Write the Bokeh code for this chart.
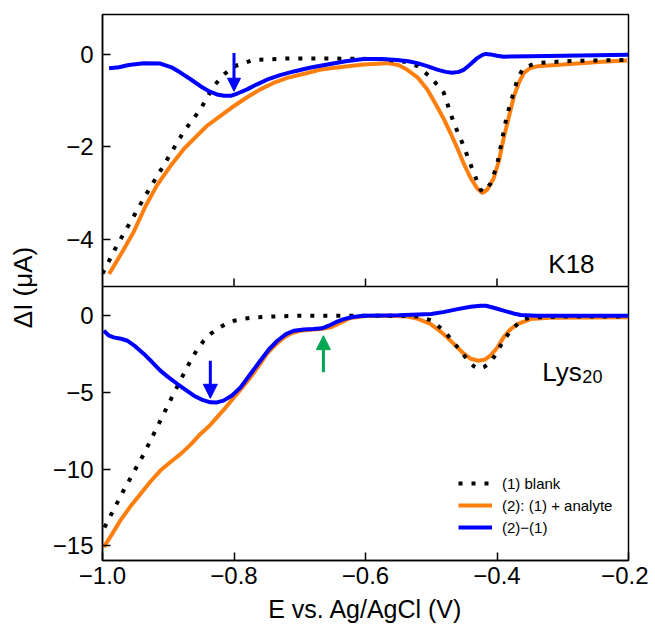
from bokeh.plotting import figure
from bokeh.models import Range1d, Span, Arrow, NormalHead, Label, Legend, LegendItem, FixedTicker
from bokeh.embed import file_html
from bokeh.resources import INLINE

# ---------------- data ----------------
# Upper panel: K18
k18_blank_E = [-1.0, -0.978, -0.957, -0.937, -0.907, -0.877, -0.851, -0.831, -0.815, -0.80, -0.77,
               -0.72, -0.65, -0.58, -0.54, -0.52, -0.50, -0.481, -0.466, -0.451, -0.436, -0.425,
               -0.42, -0.41, -0.40, -0.385, -0.369, -0.36, -0.34, -0.30, -0.25, -0.20]
k18_blank_I = [-4.75, -4.14, -3.62, -3.11, -2.40, -1.68, -1.18, -0.68, -0.42, -0.25, -0.11,
               -0.08, -0.08, -0.09, -0.15, -0.25, -0.50, -0.82, -1.47, -1.97, -2.54, -2.93,
               -2.98, -2.80, -2.40, -1.32, -0.54, -0.28, -0.18, -0.14, -0.12, -0.11]

k18_sample_E = [-0.99, -0.97, -0.952, -0.935, -0.917, -0.897, -0.876, -0.858, -0.841, -0.82, -0.80,
                -0.78, -0.76, -0.74, -0.719, -0.69, -0.668, -0.653, -0.603, -0.567, -0.55, -0.537,
                -0.52, -0.506, -0.494, -0.481, -0.47, -0.46, -0.45, -0.44, -0.43, -0.4225, -0.415,
                -0.405, -0.397, -0.39, -0.382, -0.374, -0.366, -0.359, -0.35, -0.339, -0.30, -0.273,
                -0.24, -0.202]
k18_sample_I = [-4.76, -4.28, -3.83, -3.30, -2.83, -2.42, -2.04, -1.78, -1.54, -1.32, -1.11,
                -0.92, -0.75, -0.61, -0.50, -0.40, -0.32, -0.29, -0.21, -0.18, -0.22, -0.32,
                -0.50, -0.75, -1.05, -1.39, -1.72, -2.04, -2.38, -2.68, -2.90, -3.00, -2.93,
                -2.68, -2.30, -1.82, -1.35, -0.89, -0.58, -0.39, -0.29, -0.25, -0.21, -0.18,
                -0.15, -0.12]

k18_diff_E = [-0.99, -0.975, -0.96, -0.937, -0.912, -0.895, -0.881, -0.866, -0.851, -0.838, -0.826,
              -0.815, -0.805, -0.795, -0.78, -0.765, -0.75, -0.73, -0.709, -0.685, -0.658, -0.63,
              -0.603, -0.575, -0.552, -0.535, -0.521, -0.505, -0.491, -0.478, -0.468, -0.458,
              -0.45, -0.44, -0.43, -0.422, -0.417, -0.41, -0.40, -0.39, -0.35, -0.298, -0.25, -0.20]
k18_diff_I = [-0.29, -0.27, -0.22, -0.18, -0.19, -0.27, -0.39, -0.53, -0.68, -0.79, -0.86,
              -0.89, -0.89, -0.84, -0.75, -0.64, -0.54, -0.44, -0.36, -0.28, -0.21, -0.14,
              -0.09, -0.09, -0.11, -0.14, -0.18, -0.25, -0.32, -0.37, -0.39, -0.37,
              -0.32, -0.20, -0.07, 0.00, 0.02, 0.01, -0.02, -0.04, -0.03, -0.02, -0.01, 0.00]

# Lower panel: Lys20
lys_blank_E = [-0.997, -0.968, -0.937, -0.907, -0.892, -0.879, -0.866, -0.856, -0.846, -0.836, -0.826,
               -0.813, -0.80, -0.785, -0.77, -0.74, -0.70, -0.65, -0.55, -0.52, -0.50, -0.48, -0.46,
               -0.445, -0.435, -0.428, -0.42, -0.41, -0.40, -0.39, -0.379, -0.364, -0.35, -0.30, -0.20]
lys_blank_I = [-13.8, -11.39, -9.0, -6.4, -5.1, -4.0, -2.93, -2.2, -1.63, -1.2, -0.87,
               -0.55, -0.33, -0.2, -0.11, -0.05, 0.0, 0.0, 0.0, -0.05, -0.3, -1.0, -2.06,
               -2.86, -3.3, -3.47, -3.35, -3.04, -2.39, -1.6, -0.98, -0.33, -0.12, -0.05, -0.05]

lys_sample_E = [-0.998, -0.985, -0.973, -0.958, -0.942, -0.927, -0.912, -0.897, -0.881, -0.866, -0.851,
                -0.838, -0.826, -0.813, -0.80, -0.788, -0.775, -0.762, -0.75, -0.737, -0.724, -0.712,
                -0.699, -0.684, -0.668, -0.653, -0.638, -0.623, -0.60, -0.56, -0.536, -0.52, -0.501,
                -0.488, -0.476, -0.463, -0.45, -0.44, -0.428, -0.418, -0.41, -0.40, -0.39, -0.38,
                -0.369, -0.349, -0.32, -0.20]
lys_sample_I = [-15.08, -14.2, -13.35, -12.45, -11.6, -10.8, -10.09, -9.55, -9.0, -8.4, -7.7,
                -7.2, -6.62, -6.0, -5.32, -4.7, -4.02, -3.25, -2.49, -1.9, -1.41, -1.13,
                -0.98, -0.92, -0.87, -0.76, -0.45, -0.15, -0.02, 0.0, -0.05, -0.2, -0.54,
                -0.95, -1.41, -1.95, -2.49, -2.80, -2.93, -2.85, -2.6, -2.1, -1.41, -0.9,
                -0.54, -0.22, -0.13, -0.1]

lys_diff_E = [-0.998, -0.99, -0.983, -0.972, -0.962, -0.95, -0.937, -0.925, -0.912, -0.90, -0.886,
              -0.873, -0.861, -0.848, -0.836, -0.826, -0.816, -0.803, -0.79, -0.775, -0.76, -0.747,
              -0.734, -0.721, -0.709, -0.694, -0.679, -0.666, -0.656, -0.645, -0.633, -0.62, -0.603,
              -0.55, -0.50, -0.48, -0.46, -0.44, -0.425, -0.417, -0.405, -0.39, -0.375, -0.364,
              -0.34, -0.20]
lys_diff_I = [-0.98, -1.3, -1.41, -1.5, -1.63, -2.0, -2.49, -3.0, -3.58, -4.0, -4.45,
              -4.85, -5.21, -5.48, -5.64, -5.65, -5.53, -5.2, -4.67, -3.8, -2.93, -2.2,
              -1.63, -1.2, -0.98, -0.9, -0.87, -0.82, -0.65, -0.42, -0.22, -0.08, 0.0,
              0.03, 0.11, 0.25, 0.43, 0.58, 0.65, 0.65, 0.52, 0.33, 0.15, 0.05,
              0.0, 0.0]

x_ticks = [-1.0, -0.8, -0.6, -0.4, -0.2]
x_tick_labels = ["\u22121.0", "\u22120.8", "\u22120.6", "\u22120.4", "\u22120.2"]
top_y_ticks = [0, -2, -4]
top_y_tick_labels = ["0", "\u22122", "\u22124"]
bot_y_ticks = [0, -5, -10, -15]
bot_y_tick_labels = ["0", "\u22125", "\u221210", "\u221215"]
inner_x_ticks = [-0.8, -0.6, -0.4]

legend_labels = ["(1) blank", "(2): (1) + analyte", "(2)\u2212(1)"]
x_title = "E vs. Ag/AgCl (V)"
y_title = "\u0394I (\u03bcA)"

# arrows: (E, I_tail, I_tip)
k18_arrow = (-0.80, 0.04, -0.79)
lys_arrow = (-0.836, -2.93, -5.38)
lys_green_arrow = (-0.664, -3.69, -1.30)

# ---------------- layout parameters ----------------
Y_MIN, Y_MAX = -15.95, 19.63        # lower-panel units over the whole frame
TOP_OFFSET, TOP_SCALE = 17.0, 3.0   # upper-panel value v sits at TOP_OFFSET + TOP_SCALE*v
BOUNDARY = 1.9                      # panel separator in lower-panel units
FONT = "Liberation Sans"
ORANGE = "#ff7f0e"
BLUE = "#0000ff"
GREEN = "#00a650"

p = figure(frame_width=526, frame_height=546, output_backend="svg", toolbar_location=None,
           x_range=Range1d(-1.0, -0.2), y_range=Range1d(Y_MIN, Y_MAX),
           min_border_left=102, min_border_right=20, min_border_top=14, min_border_bottom=72,
           background_fill_color="white", border_fill_color="white")
p.extra_y_ranges = {"top": Range1d((Y_MIN - TOP_OFFSET) / TOP_SCALE, (Y_MAX - TOP_OFFSET) / TOP_SCALE)}
p.grid.visible = False
p.outline_line_color = "black"
p.outline_line_width = 1.5

# axes
p.xaxis.ticker = FixedTicker(ticks=x_ticks)
p.xaxis.major_label_overrides = dict(zip(x_ticks, x_tick_labels))
y_pos = [TOP_OFFSET + TOP_SCALE * t for t in top_y_ticks] + [float(t) for t in bot_y_ticks]
p.yaxis.ticker = FixedTicker(ticks=y_pos)
p.yaxis.major_label_overrides = dict(zip(y_pos, top_y_tick_labels + bot_y_tick_labels))
for ax in (p.xaxis[0], p.yaxis[0]):
    ax.major_tick_in = 8
    ax.major_tick_out = 0
    ax.minor_tick_line_color = None
    ax.axis_line_width = 1.5
    ax.major_tick_line_width = 1.5
    ax.major_label_text_font = FONT
    ax.major_label_text_font_size = "24px"
    ax.major_label_text_color = "black"
    ax.axis_label_text_font = FONT
    ax.axis_label_text_font_size = "25px"
    ax.axis_label_text_font_style = "normal"
    ax.axis_label_text_color = "black"
p.xaxis.axis_label = x_title
p.xaxis.major_label_standoff = 6
p.xaxis.axis_label_standoff = 8
p.yaxis.axis_label = y_title
p.yaxis.axis_label_text_font_size = "26px"
p.yaxis.major_label_standoff = 9
p.yaxis.axis_label_standoff = 12

# panel separator and its inward ticks
p.add_layout(Span(location=BOUNDARY, dimension="width", line_color="black", line_width=1.5))
p.segment(x0=inner_x_ticks, y0=[BOUNDARY] * 3, x1=inner_x_ticks, y1=[BOUNDARY + 8 / 15.35] * 3,
          line_color="black", line_width=1.5)

DOT = "4 9"
# upper panel
r_s1 = p.line(k18_sample_E, k18_sample_I, y_range_name="top", line_color=ORANGE, line_width=4)
r_b1 = p.line(k18_blank_E, k18_blank_I, y_range_name="top", line_color="black", line_width=4, line_dash=DOT)
r_d1 = p.line(k18_diff_E, k18_diff_I, y_range_name="top", line_color=BLUE, line_width=4)

# lower panel
r_s2 = p.line(lys_sample_E, lys_sample_I, line_color=ORANGE, line_width=4)
r_b2 = p.line(lys_blank_E, lys_blank_I, line_color="black", line_width=4, line_dash=DOT)
r_d2 = p.line(lys_diff_E, lys_diff_I, line_color=BLUE, line_width=4)

# arrows
p.add_layout(Arrow(x_start=k18_arrow[0], y_start=k18_arrow[1], x_end=k18_arrow[0], y_end=k18_arrow[2],
                   y_range_name="top", line_color=BLUE, line_width=3,
                   end=NormalHead(size=13, fill_color=BLUE, line_color=BLUE, line_width=1)))
p.add_layout(Arrow(x_start=lys_arrow[0], y_start=lys_arrow[1], x_end=lys_arrow[0], y_end=lys_arrow[2],
                   line_color=BLUE, line_width=3,
                   end=NormalHead(size=14, fill_color=BLUE, line_color=BLUE, line_width=1)))
p.add_layout(Arrow(x_start=lys_green_arrow[0], y_start=lys_green_arrow[1], x_end=lys_green_arrow[0],
                   y_end=lys_green_arrow[2], line_color=GREEN, line_width=3,
                   end=NormalHead(size=14, fill_color=GREEN, line_color=GREEN, line_width=1)))

# panel labels
p.add_layout(Label(x=-0.322, y=-4.54, y_range_name="top", text="K18", text_font=FONT,
                   text_font_size="26px", text_color="black", text_baseline="alphabetic"))
p.add_layout(Label(x=-0.331, y=-3.65, text="Lys", text_font=FONT,
                   text_font_size="26px", text_color="black", text_baseline="alphabetic"))
p.add_layout(Label(x=-0.331, y=-3.65, x_offset=40, y_offset=-5, text="20", text_font=FONT,
                   text_font_size="18px", text_color="black", text_baseline="alphabetic"))

legend = Legend(items=[LegendItem(label=legend_labels[0], renderers=[r_b2]),
                       LegendItem(label=legend_labels[1], renderers=[r_s2]),
                       LegendItem(label=legend_labels[2], renderers=[r_d2])],
                location=(356, 24), glyph_width=34, glyph_height=18, label_height=18,
                label_standoff=10, spacing=4, padding=0, margin=0,
                label_text_font=FONT, label_text_font_size="15px", label_text_color="black",
                background_fill_alpha=0, border_line_alpha=0)
p.add_layout(legend)

open("out.html", "w").write(file_html(p, INLINE))
